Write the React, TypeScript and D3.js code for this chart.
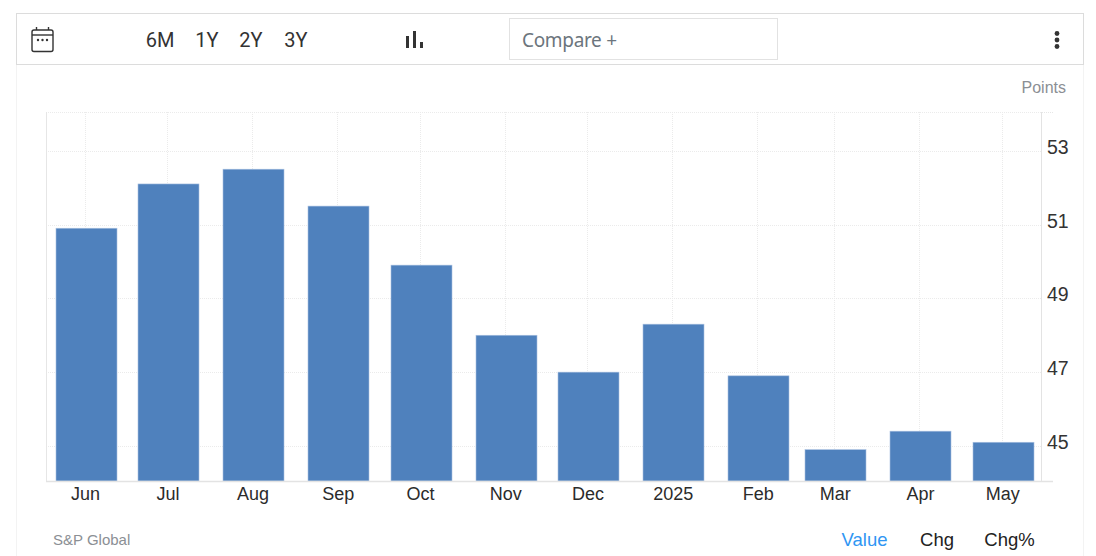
import { useEffect, useRef } from "react";
import * as d3 from "d3";

const months = [
  "2024-06-01", "2024-07-01", "2024-08-01", "2024-09-01", "2024-10-01", "2024-11-01",
  "2024-12-01", "2025-01-01", "2025-02-01", "2025-03-01", "2025-04-01", "2025-05-01",
];
const monthLabels = ["Jun", "Jul", "Aug", "Sep", "Oct", "Nov", "Dec", "2025", "Feb", "Mar", "Apr", "May"];
const values = [50.9, 52.1, 52.5, 51.5, 49.9, 48.0, 47.0, 48.3, 46.9, 44.9, 45.4, 45.1];
const yTicks = [45, 47, 49, 51, 53];
const ranges = ["6M", "1Y", "2Y", "3Y"];
const rangeX = [160, 207, 251, 296];
const tabs = ["Value", "Chg", "Chg%"];
const tabX = [864.5, 937, 1009.5];

const width = 1096;
const height = 556;
const margin = { top: 112, right: 54, bottom: 75, left: 46 };
const sans = "'Liberation Sans', Arial, sans-serif";
const barWidth = 61;

export default function App() {
  const svgRef = useRef<SVGSVGElement | null>(null);

  useEffect(() => {
    if (!svgRef.current) return;
    const svg = d3.select(svgRef.current);
    svg.selectAll("*").remove();

    const dates = months.map(m => new Date(m + "T00:00:00Z"));
    const bottom = height - margin.bottom;
    const axisX = width - margin.right;

    const x = d3.scaleUtc()
      .domain([dates[0], dates[dates.length - 1]])
      .range([86, 1003.3]);
    const y = d3.scaleLinear().domain([44.05, 54.05]).range([bottom, margin.top]);

    // page frame
    svg.append("rect").attr("width", width).attr("height", height).attr("fill", "#fff");
    [16.5, 1083.5].forEach(fx => {
      svg.append("line").attr("x1", fx).attr("x2", fx).attr("y1", 64).attr("y2", height)
        .attr("stroke", "#f3f3f3");
    });
    svg.append("rect").attr("x", 16.5).attr("y", 13.5).attr("width", 1067).attr("height", 51)
      .attr("fill", "#fff").attr("stroke", "#dcdcdc");

    // toolbar
    const cal = svg.append("g").attr("fill", "none").attr("stroke", "#333").attr("stroke-width", 1.4);
    cal.append("rect").attr("x", 32).attr("y", 30).attr("width", 21).attr("height", 21.5).attr("rx", 2);
    cal.append("line").attr("x1", 32).attr("x2", 53).attr("y1", 35).attr("y2", 35);
    [36.5, 48.5].forEach(cx => {
      cal.append("line").attr("x1", cx).attr("x2", cx).attr("y1", 27).attr("y2", 30);
    });
    [38, 42.5, 47].forEach(cx => {
      svg.append("circle").attr("cx", cx).attr("cy", 40).attr("r", 1.2).attr("fill", "#333");
    });

    ranges.forEach((r, i) => {
      svg.append("text").attr("x", rangeX[i]).attr("y", 47).attr("text-anchor", "middle")
        .attr("font-family", "Roboto, sans-serif").attr("font-size", 20).attr("fill", "#333").text(r);
    });

    [[406, 36], [413, 31], [420, 42]].forEach(([bx, by]) => {
      svg.append("rect").attr("x", bx).attr("y", by).attr("width", 3).attr("height", 48 - by).attr("fill", "#333");
    });

    svg.append("rect").attr("x", 509.5).attr("y", 18.5).attr("width", 268).attr("height", 41)
      .attr("fill", "#fff").attr("stroke", "#e2e2e2");
    svg.append("text").attr("x", 522).attr("y", 47).attr("font-family", "'Noto Sans', sans-serif")
      .attr("font-size", 19).attr("fill", "#6c757d").attr("textLength", 95).text("Compare +");

    [33.5, 40, 46.5].forEach(cy => {
      svg.append("circle").attr("cx", 1057).attr("cy", cy).attr("r", 2.4).attr("fill", "#333");
    });

    svg.append("text").attr("x", 1066).attr("y", 93).attr("text-anchor", "end")
      .attr("font-family", sans).attr("font-size", 16).attr("fill", "#8b8f94").text("Points");

    // grid
    const grid = svg.append("g").attr("stroke", "#ebebeb").attr("stroke-dasharray", "1,1");
    dates.forEach(d => {
      const gx = Math.floor(x(d)) - 0.5;
      grid.append("line").attr("x1", gx).attr("x2", gx).attr("y1", margin.top).attr("y2", bottom);
    });
    [...yTicks.map(t => Math.round(y(t)) + 0.5), margin.top + 0.5].forEach(gy => {
      grid.append("line").attr("x1", margin.left).attr("x2", axisX).attr("y1", gy).attr("y2", gy);
    });

    // frame lines of the plot
    svg.append("line").attr("x1", margin.left + 0.5).attr("x2", margin.left + 0.5)
      .attr("y1", margin.top).attr("y2", bottom).attr("stroke", "#e6e6e6");

    // bars
    svg.selectAll(".bar")
      .data(values)
      .join("rect")
      .attr("class", "bar")
      .attr("x", (_, i) => Math.round(x(dates[i]) - barWidth / 2))
      .attr("y", d => y(d))
      .attr("width", barWidth)
      .attr("height", d => bottom - y(d))
      .attr("fill", "#4f81bd")
      .attr("stroke", "#a9c0e0")
      .attr("stroke-width", 0.6);

    // x axis
    const xAxis = d3.axisBottom(x)
      .tickValues(dates)
      .tickSize(0)
      .tickPadding(6)
      .tickFormat((_, i) => monthLabels[i]);
    const gx = svg.append("g").attr("transform", `translate(-1,${bottom})`).call(xAxis);
    gx.select(".domain").remove();
    gx.selectAll("text").attr("font-family", sans).attr("font-size", 18).attr("fill", "#2b2b2b");
    svg.append("line").attr("x1", margin.left).attr("x2", axisX + 11).attr("y1", bottom + 0.5).attr("y2", bottom + 0.5)
      .attr("stroke", "#e3e3e3").attr("stroke-width", 1.5);

    // y axis
    const yAxis = d3.axisRight(y)
      .tickValues(yTicks)
      .tickSize(0)
      .tickPadding(5)
      .tickFormat(d => String(d));
    const gy = svg.append("g").attr("transform", `translate(${axisX},0)`).call(yAxis);
    gy.select(".domain").remove();
    gy.selectAll("text").attr("dy", "0.13em").attr("font-family", sans).attr("font-size", 19.5).attr("fill", "#333");
    svg.append("line").attr("x1", axisX - 0.5).attr("x2", axisX - 0.5).attr("y1", margin.top).attr("y2", bottom)
      .attr("stroke", "#e3e3e3");
    svg.append("line").attr("x1", axisX).attr("x2", axisX + 11).attr("y1", margin.top + 0.5).attr("y2", margin.top + 0.5)
      .attr("stroke", "#e6e6e6").attr("stroke-dasharray", "1,1");

    // footer
    svg.append("text").attr("x", 53).attr("y", 545).attr("font-family", sans).attr("font-size", 15)
      .attr("fill", "#8b8f94").text("S&P Global");
    tabs.forEach((t, i) => {
      svg.append("text").attr("x", tabX[i]).attr("y", 546).attr("text-anchor", "middle")
        .attr("font-family", sans).attr("font-size", 18.5)
        .attr("fill", i === 0 ? "#2f96f3" : "#222").text(t);
    });
  }, []);

  return (
    <svg
      ref={svgRef}
      width={width}
      height={height}
      style={{ position: "absolute", left: 0, top: 0, display: "block" }}
    />
  );
}
